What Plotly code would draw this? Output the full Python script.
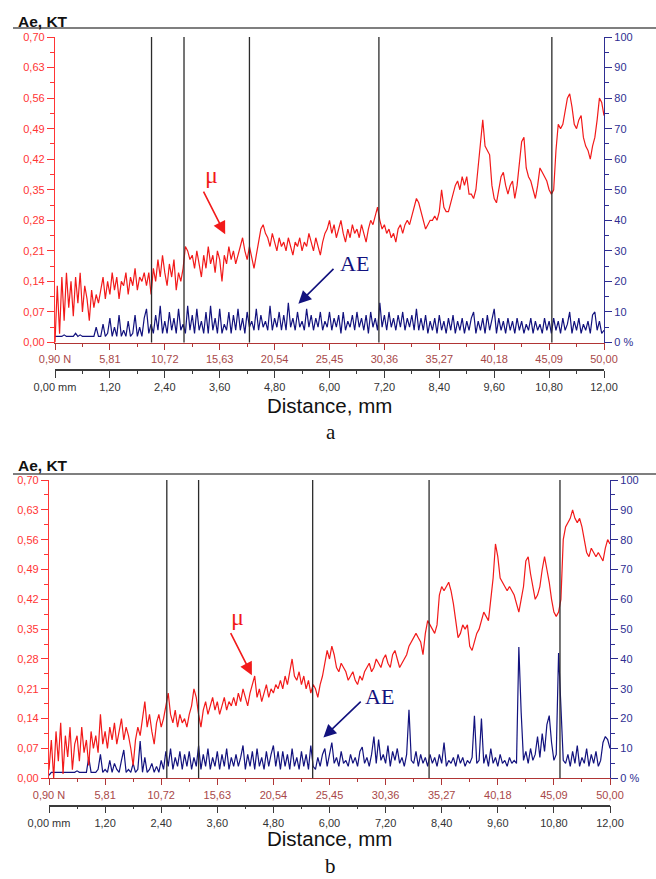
import plotly.graph_objects as go

W, H = 656, 879

# ---------------- data ----------------
step_mm = 0.05
mm_grid = [round(i * step_mm, 2) for i in range(241)]

mu_a = [
    0.00,0.13,0.02,0.15,0.05,0.16,0.08,0.14,0.06,0.15,0.09,0.16,0.07,0.13,0.10,0.05,0.12,0.08,0.11,0.09,
    0.12,0.15,0.10,0.14,0.11,0.16,0.12,0.15,0.10,0.14,0.13,0.16,0.11,0.15,0.13,0.17,0.12,0.15,0.14,0.16,
    0.13,0.16,0.11,0.17,0.14,0.19,0.15,0.20,0.16,0.13,0.18,0.15,0.19,0.12,0.16,0.14,0.17,0.22,0.21,0.19,
    0.20,0.17,0.21,0.18,0.15,0.20,0.17,0.22,0.18,0.20,0.16,0.21,0.19,0.14,0.20,0.18,0.22,0.19,0.21,0.18,
    0.20,0.22,0.24,0.21,0.19,0.22,0.19,0.17,0.20,0.23,0.26,0.27,0.25,0.24,0.22,0.25,0.23,0.21,0.24,0.22,
    0.23,0.21,0.24,0.22,0.20,0.23,0.22,0.24,0.21,0.23,0.22,0.25,0.23,0.21,0.24,0.22,0.20,0.23,0.25,0.26,
    0.28,0.25,0.27,0.24,0.26,0.28,0.25,0.23,0.26,0.24,0.27,0.25,0.26,0.24,0.27,0.25,0.23,0.26,0.28,0.27,
    0.29,0.31,0.28,0.26,0.27,0.25,0.26,0.24,0.25,0.23,0.26,0.27,0.25,0.27,0.28,0.27,0.29,0.31,0.33,0.32,
    0.30,0.28,0.26,0.27,0.28,0.28,0.29,0.28,0.30,0.35,0.31,0.30,0.30,0.32,0.34,0.36,0.37,0.35,0.38,0.36,
    0.38,0.34,0.34,0.33,0.35,0.40,0.46,0.51,0.45,0.44,0.43,0.36,0.33,0.32,0.35,0.38,0.39,0.36,0.34,0.36,
    0.37,0.33,0.36,0.41,0.46,0.47,0.40,0.38,0.37,0.35,0.33,0.36,0.40,0.39,0.38,0.37,0.35,0.34,0.35,0.44,
    0.50,0.49,0.50,0.53,0.56,0.57,0.54,0.50,0.49,0.51,0.52,0.47,0.45,0.44,0.42,0.45,0.47,0.51,0.56,0.55,
    0.52,
]

ae_a = [
    2,2,2,2,2.5,2,2,2,2,3,2,2.5,2,2,2,2,2,2,5,2,
    2,6,2,3,8,2,5,2,9,2,4,2,7,2,3,9,2,5,2,8,
    11,3,6,3,9,4,12,3,7,3,10,4,8,3,11,4,6,3,12,4,
    9,3,11,4,7,3,10,3,12,4,8,3,11,3,6,4,10,3,9,4,
    11,4,8,3,10,5,7,4,11,4,9,5,7,4,12,4,8,5,10,4,
    9,4,13,5,8,4,10,5,7,4,11,5,9,4,8,5,10,4,7,5,
    10,4,8,5,9,3,10,4,7,5,9,4,10,5,8,4,9,3,10,5,
    8,4,13,5,9,4,10,5,8,4,9,5,10,4,8,5,9,4,11,4,
    8,4,9,3,7,4,8,3,9,4,7,3,8,4,9,3,7,4,8,3,
    7,4,8,10,3,7,4,8,3,9,4,7,11,3,8,4,7,3,8,4,
    7,3,8,4,7,3,6,4,8,3,7,4,6,3,8,4,7,3,8,4,
    7,3,8,4,6,10,3,7,4,8,3,6,4,7,3,9,10,4,7,3,
    4,
]

mu_b = [
    0.02,0.09,0.00,0.11,0.04,0.13,0.01,0.10,0.05,0.12,0.02,0.08,0.10,0.04,0.12,0.06,0.09,0.03,0.11,0.07,
    0.10,0.06,0.15,0.08,0.11,0.07,0.12,0.09,0.13,0.08,0.11,0.14,0.09,0.12,0.10,0.07,0.03,0.09,0.12,0.10,
    0.14,0.18,0.12,0.15,0.11,0.08,0.13,0.15,0.12,0.14,0.17,0.20,0.15,0.13,0.16,0.12,0.15,0.13,0.14,0.12,
    0.15,0.17,0.21,0.19,0.15,0.12,0.16,0.18,0.15,0.17,0.19,0.16,0.18,0.15,0.17,0.19,0.16,0.18,0.17,0.19,
    0.17,0.20,0.18,0.21,0.19,0.17,0.20,0.22,0.24,0.19,0.21,0.18,0.20,0.22,0.19,0.21,0.20,0.22,0.21,0.23,
    0.21,0.24,0.22,0.25,0.28,0.24,0.23,0.25,0.22,0.24,0.21,0.23,0.20,0.22,0.21,0.19,0.22,0.24,0.27,0.30,
    0.28,0.31,0.29,0.26,0.25,0.27,0.26,0.25,0.23,0.24,0.25,0.23,0.22,0.24,0.23,0.25,0.26,0.27,0.25,0.26,
    0.28,0.27,0.26,0.28,0.29,0.27,0.26,0.29,0.30,0.28,0.26,0.27,0.28,0.29,0.31,0.32,0.33,0.34,0.33,0.32,
    0.29,0.34,0.37,0.36,0.35,0.34,0.36,0.43,0.45,0.44,0.45,0.46,0.44,0.41,0.37,0.33,0.34,0.36,0.35,0.36,
    0.31,0.30,0.32,0.34,0.35,0.37,0.39,0.38,0.37,0.42,0.47,0.55,0.52,0.47,0.46,0.45,0.44,0.45,0.44,0.43,
    0.41,0.39,0.42,0.45,0.51,0.52,0.48,0.45,0.42,0.43,0.45,0.49,0.52,0.49,0.46,0.42,0.39,0.38,0.39,0.42,
    0.56,0.59,0.60,0.61,0.63,0.61,0.60,0.61,0.59,0.56,0.53,0.52,0.54,0.53,0.52,0.53,0.52,0.51,0.54,0.56,
    0.55,
]

ae_b = [
    1,2,2,2,2,2,2,2,2,2,2,2,2.5,2,2,2,2,7,2,2,
    2,3,8,2,3,2,6,2,5,3,2,6,9.5,2,3,2,5,2,3,12.5,
    2,7,2,3,5,2,4,2,6,3,9,4,10,3,7,4,9,3,8,4,
    9,3,7,4,11,3,8,4,10,3,7,4,9,3,8,4,10,3,7,4,
    8,4,7,11,3,8,4,9,3,10,4,7,3,9,4,8,11,4,9,3,
    9,4,8,3,10,4,7,3,9,4,8,3,11,4,3,7,4,8,10,4,
    8,12,5,7,4,9,5,6,4,8,5,7,4,9,10.5,5,7,4,8,14,
    5,13,6,8,5,11,4,9,6,10,5,7,4,8,23,6,5,9,4,8,
    5,7,4,8,5,7,4,8,5,12,4,6,5,7,4,8,5,7,4,6,
    5,7,21,5,6,20,5,8,4,10,5,7,4,8,5,6,4,7,5,6,
    5,44,22,6,9,5,10,6,8,14,7,15,9,18,21,12,6,8,42,22,
    6,5,8,4,9,5,11,4,7,5,10,4,8,5,9,4,6,12,14,13,
    10,
]

markers_a_mm = [2.11, 2.82, 4.25, 7.08, 10.86]
markers_b_mm = [2.52, 3.20, 5.64, 8.13, 10.93]

x_tick_mm = [0, 1.2, 2.4, 3.6, 4.8, 6.0, 7.2, 8.4, 9.6, 10.8, 12.0]
x_minor_mm = [0.6, 1.8, 3.0, 4.2, 5.4, 6.6, 7.8, 9.0, 10.2, 11.4]
load_labels = ["0,90 N", "5,81", "10,72", "15,63", "20,54", "25,45",
               "30,36", "35,27", "40,18", "45,09", "50,00"]
mm_labels = ["0,00 mm", "1,20", "2,40", "3,60", "4,80", "6,00",
             "7,20", "8,40", "9,60", "10,80", "12,00"]
mu_ticks = [0, 0.07, 0.14, 0.21, 0.28, 0.35, 0.42, 0.49, 0.56, 0.63, 0.70]
mu_tick_labels = ["0,00", "0,07", "0,14", "0,21", "0,28", "0,35",
                  "0,42", "0,49", "0,56", "0,63", "0,70"]
mu_minor = [0.035, 0.105, 0.175, 0.245, 0.315, 0.385, 0.455, 0.525, 0.595, 0.665]
ae_ticks = [0, 10, 20, 30, 40, 50, 60, 70, 80, 90, 100]
ae_tick_labels = ["0 %", "10", "20", "30", "40", "50", "60", "70", "80", "90", "100"]
ae_minor = [5, 15, 25, 35, 45, 55, 65, 75, 85, 95]

# ---------------- styling ----------------
RED = "#f21a1a"
NAVY = "#12127e"
MU_AX = "#ff3535"
AE_AX = "#2e2e92"
LOAD_AX = "#b03535"
LOAD_TXT = "#a84848"
MM_AX = "#3a3a3a"
FONT = "Liberation Sans, Arial, sans-serif"
SERIF = "Liberation Serif, Times New Roman, serif"


def px(x):
    return x / W


def py(y):
    return 1 - y / H


panels = [
    dict(x0=55, x1=604, top=37, bot=342.5, mmline=370, head_y=21, head_line=28,
         dist_y=405, letter_y=432, letter="a", mu=mu_a, ae=ae_a, markers=markers_a_mm,
         xl="x", xm="x3", yae="y", ymu="y2"),
    dict(x0=49, x1=610, top=480, bot=778.3, mmline=805.7, head_y=465, head_line=474,
         dist_y=838, letter_y=866, letter="b", mu=mu_b, ae=ae_b, markers=markers_b_mm,
         xl="x2", xm="x4", yae="y3", ymu="y4"),
]

fig = go.Figure()
layout = dict(
    width=W, height=H, margin=dict(l=0, r=0, t=0, b=0, pad=0, autoexpand=False),
    paper_bgcolor="white", plot_bgcolor="rgba(0,0,0,0)",
    showlegend=False, font=dict(family=FONT, size=11),
)
shapes = []
annotations = []


def axname(ref):
    return ref[0] + "axis" + ref[1:]


for p in panels:
    xdom = [px(p["x0"]), px(p["x1"])]
    ydom = [py(p["bot"]), py(p["top"])]

    # AE (blue) on base axis, mu (red) on overlay so it is drawn on top
    fig.add_trace(go.Scatter(x=mm_grid, y=p["ae"], mode="lines",
                             line=dict(color=NAVY, width=1.2),
                             xaxis=p["xl"], yaxis=p["yae"], hoverinfo="skip"))
    fig.add_trace(go.Scatter(x=mm_grid, y=p["mu"], mode="lines",
                             line=dict(color=RED, width=1.2),
                             xaxis=p["xl"], yaxis=p["ymu"], hoverinfo="skip"))
    fig.add_trace(go.Scatter(x=[0, 12], y=[None, None], mode="lines",
                             xaxis=p["xm"], yaxis=p["yae"], hoverinfo="skip"))

    common = dict(showgrid=False, zeroline=False, fixedrange=True, automargin=False)
    layout[axname(p["xl"])] = dict(
        domain=xdom, range=[0, 12], anchor=p["yae"],
        tickmode="array", tickvals=x_tick_mm, ticktext=load_labels,
        showline=True, linecolor=LOAD_AX, linewidth=1.3,
        ticks="outside", ticklen=6, tickwidth=1.2, tickcolor=LOAD_AX,
        minor=dict(tickvals=x_minor_mm, ticks="outside", ticklen=3, tickcolor=LOAD_AX, tickwidth=1.2),
        tickfont=dict(color=LOAD_TXT, size=11, family=FONT), **common,
    )
    layout[axname(p["xm"])] = dict(
        domain=xdom, range=[0, 12], anchor="free", overlaying=p["xl"],
        position=py(p["mmline"]), side="bottom",
        tickmode="array", tickvals=x_tick_mm, ticktext=mm_labels,
        showline=True, linecolor=MM_AX, linewidth=1.5,
        ticks="outside", ticklen=7, tickwidth=1.3, tickcolor=MM_AX,
        minor=dict(tickvals=x_minor_mm, ticks="outside", ticklen=3, tickcolor=MM_AX, tickwidth=1.3),
        tickfont=dict(color="#333333", size=11, family=FONT), **common,
    )
    layout[axname(p["yae"])] = dict(
        domain=ydom, range=[0, 100], anchor=p["xl"], side="right",
        tickmode="array", tickvals=ae_ticks, ticktext=ae_tick_labels,
        showline=True, linecolor=AE_AX, linewidth=1.3,
        ticks="outside", ticklen=7, tickwidth=1.2, tickcolor=AE_AX,
        minor=dict(tickvals=ae_minor, ticks="outside", ticklen=4, tickcolor=AE_AX, tickwidth=1.2),
        tickfont=dict(color=AE_AX, size=11, family=FONT), **common,
    )
    layout[axname(p["ymu"])] = dict(
        domain=ydom, range=[0, 0.70], anchor=p["xl"], side="left",
        overlaying=p["yae"],
        tickmode="array", tickvals=mu_ticks, ticktext=mu_tick_labels,
        showline=True, linecolor=MU_AX, linewidth=1.3,
        ticks="outside", ticklen=7, tickwidth=1.2, tickcolor=MU_AX,
        minor=dict(tickvals=mu_minor, ticks="outside", ticklen=4, tickcolor=MU_AX, tickwidth=1.2),
        tickfont=dict(color=MU_AX, size=11, family=FONT), **common,
    )

    # vertical event markers
    for m in p["markers"]:
        shapes.append(dict(type="line", xref=p["xl"], yref=p["yae"] + " domain",
                           x0=m, x1=m, y0=0, y1=1,
                           line=dict(color="#2b2b2b", width=1.3)))
    # header rule
    shapes.append(dict(type="line", xref="paper", yref="paper",
                       x0=px(13), x1=1, y0=py(p["head_line"]), y1=py(p["head_line"]),
                       line=dict(color="#555555", width=1.6)))
    annotations.append(dict(text="<b>Ae, KT</b>", xref="paper", yref="paper",
                            x=px(16), y=py(p["head_y"]), xanchor="left", yanchor="middle",
                            showarrow=False, font=dict(size=15.5, color="#111111", family=FONT)))
    xc = (p["x0"] + p["x1"]) / 2
    annotations.append(dict(text="Distance, mm", xref="paper", yref="paper",
                            x=px(xc), y=py(p["dist_y"]), xanchor="center", yanchor="middle",
                            showarrow=False, font=dict(size=20.5, color="#111111", family=FONT)))
    annotations.append(dict(text=p["letter"], xref="paper", yref="paper",
                            x=px(xc + 1), y=py(p["letter_y"]), xanchor="center", yanchor="middle",
                            showarrow=False, font=dict(size=21, color="#111111", family=SERIF)))

# mu / AE labels and arrows
label_specs = [
    # (xaxis, yaxis, text, tx, ty, tail_x, tail_y, tip_x, tip_y, color, size)
    ("x", "y2", "μ", 3.43, 0.383, 3.23, 0.349, 3.72, 0.248, RED, 24),
    ("x", "y", "AE", 6.55, 25.9, 6.12, 24.6, 5.32, 12.7, NAVY, 22),
    ("x2", "y4", "μ", 4.04, 0.379, 3.87, 0.344, 4.34, 0.242, RED, 24),
    ("x2", "y3", "AE", 7.06, 27.5, 6.70, 26.2, 5.87, 13.7, NAVY, 22),
]
for xa, ya, t, tx, ty, ax, ay, bx, by, col, sz in label_specs:
    annotations.append(dict(text=t, xref=xa, yref=ya, x=tx, y=ty, showarrow=False,
                            xanchor="center", yanchor="middle",
                            font=dict(size=sz, color=col, family=SERIF)))
    annotations.append(dict(text="", xref=xa, yref=ya, x=bx, y=by,
                            axref=xa, ayref=ya, ax=ax, ay=ay,
                            showarrow=True, arrowhead=2, arrowsize=1.6, arrowwidth=1.6,
                            arrowcolor=col, standoff=0, startstandoff=0))

layout["shapes"] = shapes
layout["annotations"] = annotations
fig.update_layout(**layout)
fig.write_html("out.html")
